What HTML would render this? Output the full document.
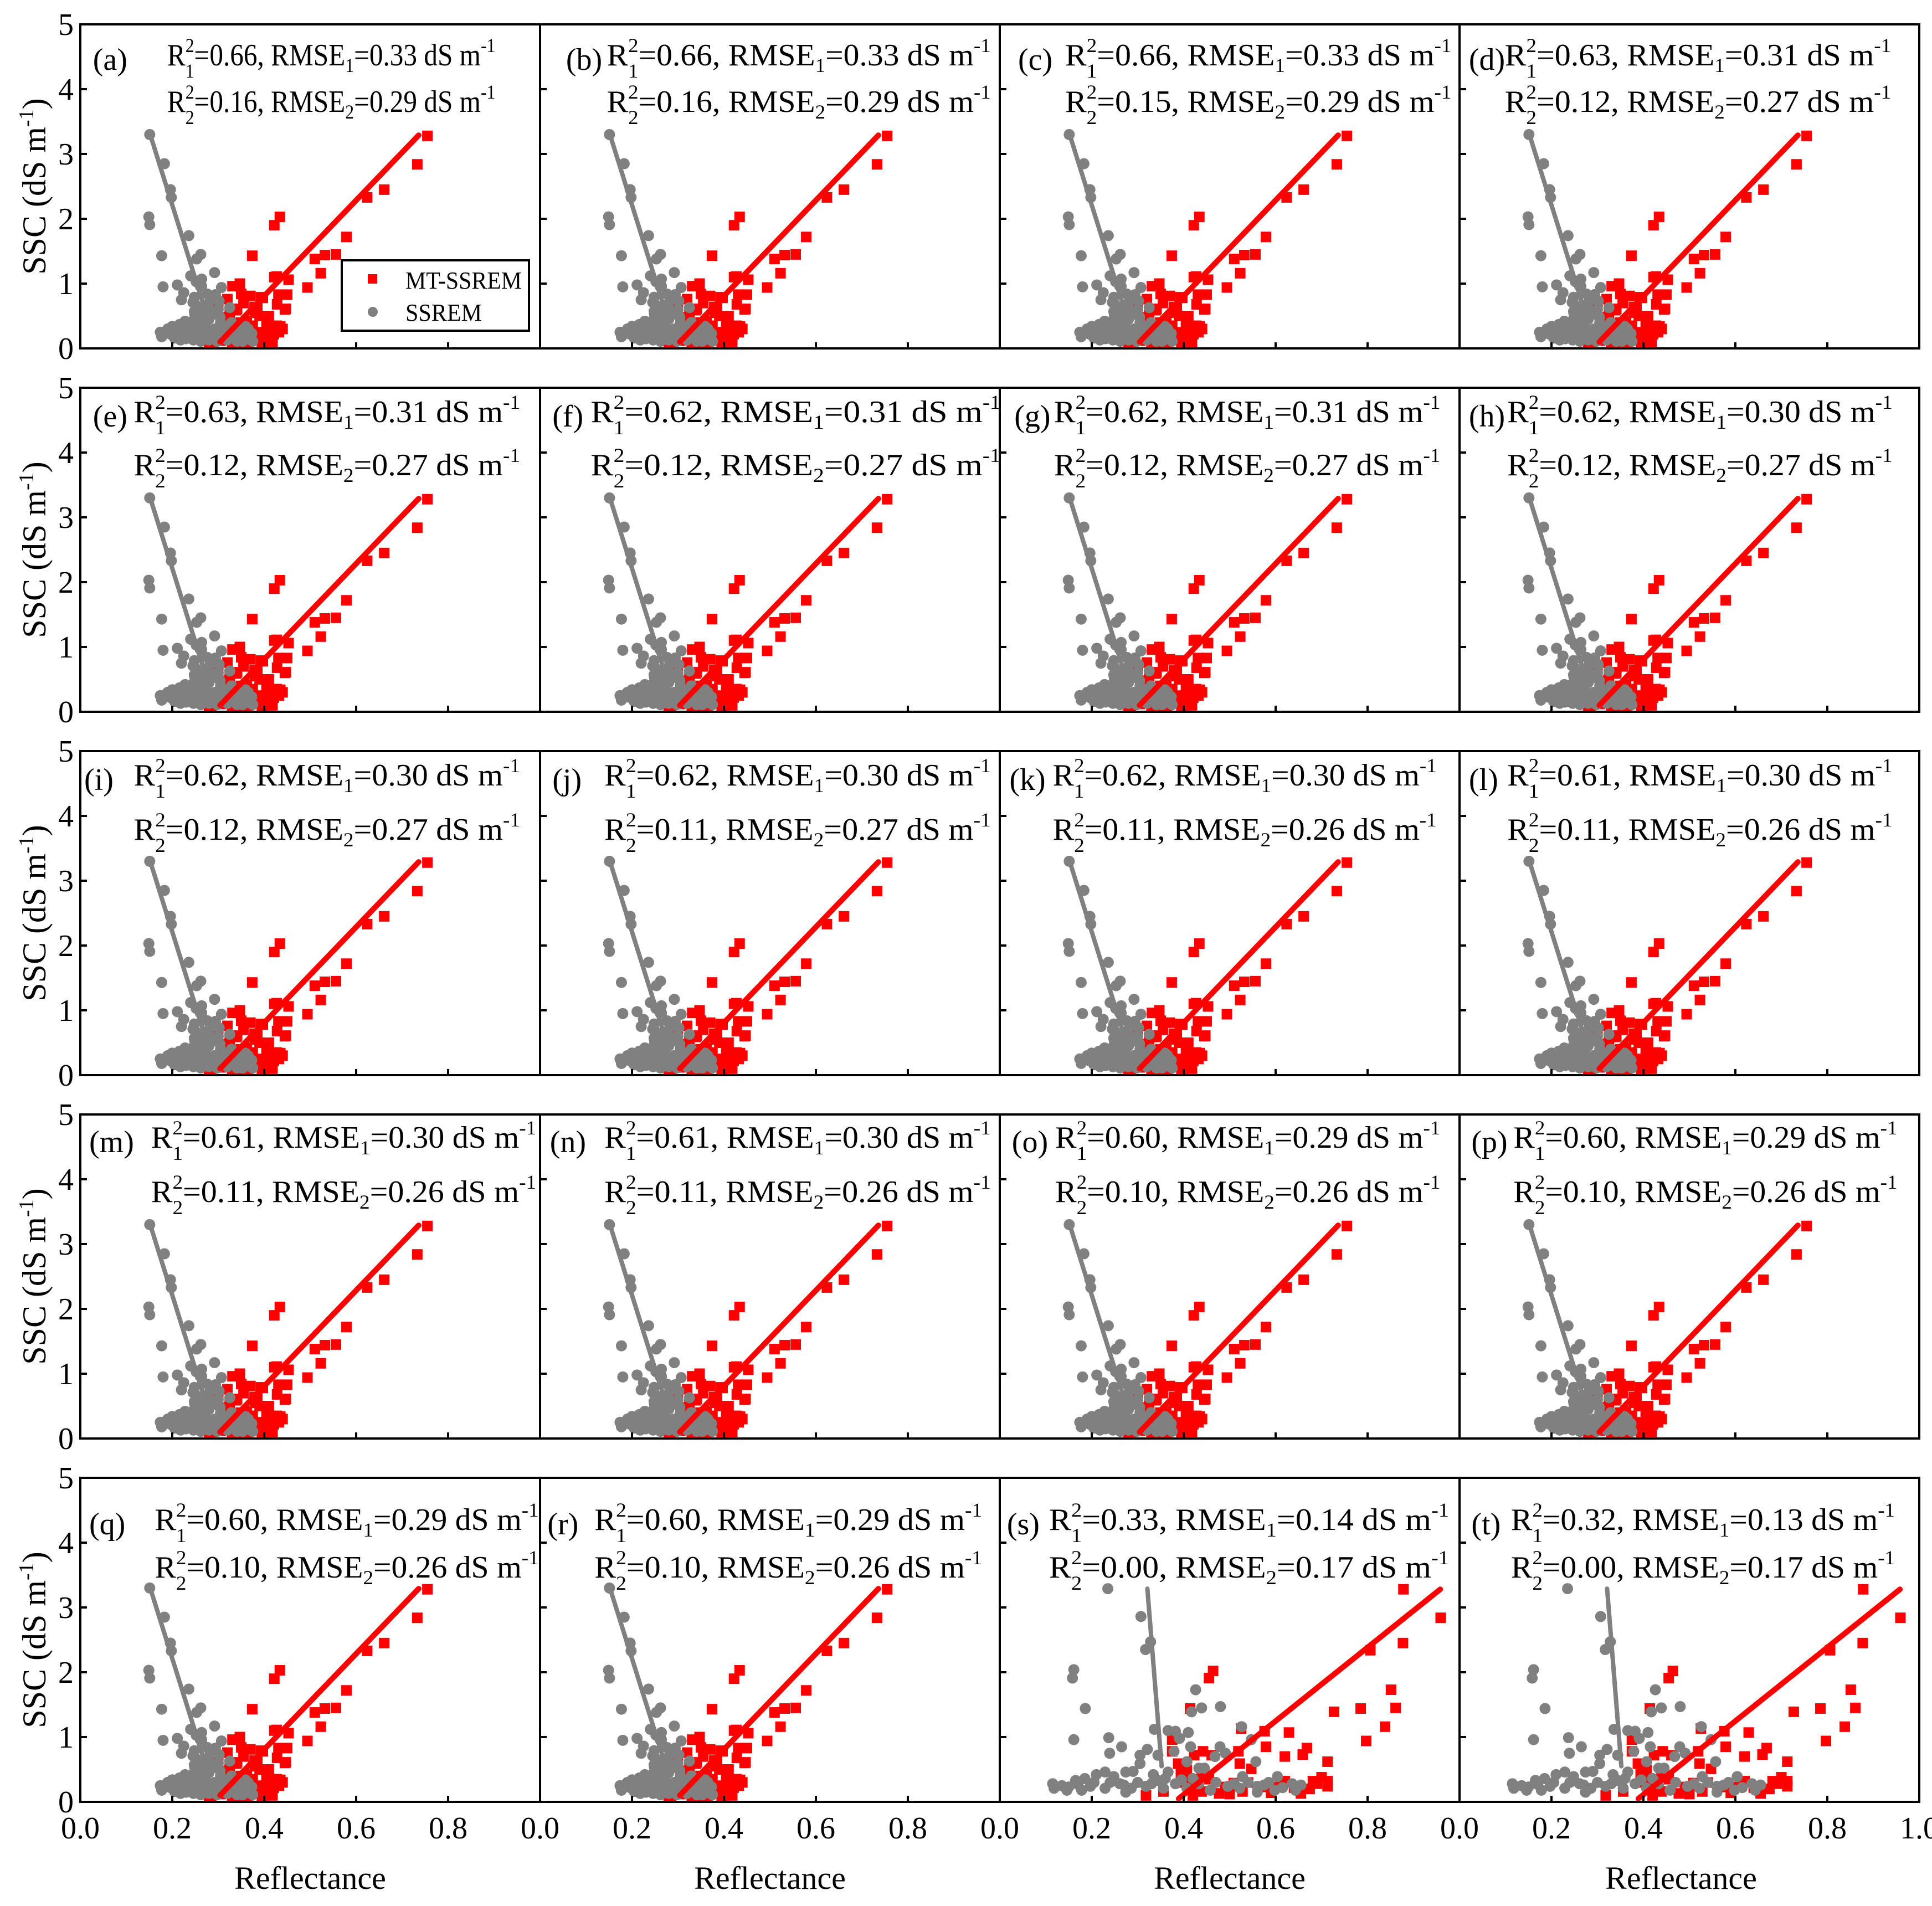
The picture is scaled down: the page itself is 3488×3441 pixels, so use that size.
<!DOCTYPE html>
<html><head><meta charset="utf-8">
<style>
html,body{margin:0;padding:0;background:#fff;}
svg{display:block;font-family:"Liberation Serif",serif;}
</style></head>
<body>
<svg id="chart" width="3488" height="3441" viewBox="0 0 3488 3441" xmlns="http://www.w3.org/2000/svg"></svg>
<script>
// ---------- data (panels a–r) ----------
const redX = [0.755,0.733,0.661,0.624,0.579,0.556,0.532,0.510,0.523,0.494,0.434,0.422,0.374,0.422,0.453,0.450,0.445,0.428,0.435,0.420,0.401,0.393,0.370,0.347,0.331,0.350,0.320,0.300,0.339,0.316,0.379,0.390,0.362,0.336,0.362,0.324,0.285,0.408,0.412,0.379,0.356,0.427,0.431,0.447,0.397,0.385,0.341,0.405,0.427,0.421,0.361,0.280,0.349,0.316,0.300,0.310,0.330,0.345,0.370,0.395,0.415,0.440,0.380,0.355,0.325,0.395,0.410,0.375,0.345,0.290,0.305,0.335,0.365,0.390,0.418,0.432];
const redY = [3.28,2.84,2.45,2.33,1.72,1.45,1.44,1.38,1.16,0.94,2.03,1.90,1.43,1.10,1.06,0.83,0.60,0.68,0.34,0.22,0.10,0.79,0.81,1.00,0.96,0.84,0.76,0.68,0.59,0.48,0.64,0.50,0.42,0.34,0.22,0.14,0.09,0.45,0.27,0.14,0.07,1.11,0.83,0.61,0.78,0.62,0.61,0.36,0.35,0.22,0.08,0.08,0.40,0.40,0.30,0.20,0.05,0.25,0.30,0.25,0.15,0.30,0.55,0.70,0.55,0.05,0.50,0.35,0.15,0.20,0.12,0.06,0.10,0.20,0.10,0.25];
const grayX = [0.151,0.183,0.196,0.198,0.149,0.151,0.236,0.177,0.262,0.253,0.292,0.240,0.264,0.211,0.180,0.261,0.307,0.225,0.220,0.245,0.284,0.301,0.325,0.272,0.249,0.301,0.276,0.174,0.177,0.252,0.264,0.276,0.294,0.248,0.302,0.282,0.250,0.248,0.280,0.304,0.266,0.296,0.244,0.228,0.216,0.200,0.196,0.212,0.230,0.246,0.262,0.280,0.298,0.320,0.341,0.361,0.373,0.359,0.345,0.329,0.272,0.256,0.240,0.224,0.208,0.288,0.305,0.316,0.336,0.353,0.375,0.280,0.260,0.305,0.190,0.235,0.318,0.332,0.350,0.205,0.218,0.232,0.245,0.258,0.270,0.285,0.295,0.310,0.325,0.340,0.355,0.368,0.215,0.238,0.252,0.268,0.292,0.312,0.330,0.348,0.365,0.262,0.286,0.300];
const grayY = [3.30,2.85,2.45,2.33,2.03,1.91,1.74,1.43,1.45,1.38,1.17,1.12,1.07,0.98,0.95,0.96,0.94,0.86,0.75,0.71,0.75,0.73,0.63,0.62,0.53,0.51,0.44,0.25,0.18,1.03,0.96,0.84,0.83,0.79,0.73,0.73,0.68,0.57,0.62,0.48,0.51,0.53,0.42,0.42,0.37,0.34,0.22,0.19,0.15,0.13,0.11,0.13,0.11,0.13,0.11,0.17,0.23,0.34,0.28,0.40,0.34,0.28,0.25,0.28,0.25,0.22,0.28,0.22,0.19,0.11,0.11,0.45,0.40,0.40,0.30,0.30,0.30,0.22,0.25,0.16,0.13,0.20,0.18,0.22,0.18,0.20,0.16,0.18,0.20,0.16,0.14,0.14,0.26,0.33,0.36,0.26,0.30,0.33,0.30,0.20,0.30,0.62,0.58,0.60];
const redLineX = [0.304,0.736];
const redLineY = [0.10,3.29];
const grayLineX = [0.152,0.280];
const grayLineY = [3.30,0.40];
// ---------- data (panels s, t) ----------
const redX2 = [0.878,0.959,0.877,0.806,0.464,0.455,0.851,0.727,0.785,0.861,0.838,0.797,0.414,0.525,0.576,0.579,0.629,0.620,0.668,0.659,0.713,0.375,0.375,0.442,0.461,0.423,0.519,0.522,0.547,0.388,0.407,0.394,0.410,0.439,0.713,0.700,0.681,0.674,0.620,0.604,0.573,0.528,0.490,0.477,0.439,0.356,0.318,0.420,0.655,0.713,0.509,0.395,0.430,0.455,0.500,0.540,0.590,0.640,0.690];
const redY2 = [3.28,2.84,2.45,2.34,2.02,1.91,1.73,1.39,1.44,1.45,1.16,0.94,1.44,1.13,1.09,0.85,1.07,0.70,0.83,0.73,0.62,0.96,0.78,0.78,0.72,0.72,0.78,0.59,0.51,0.59,0.49,0.43,0.34,0.41,0.32,0.38,0.32,0.20,0.32,0.23,0.23,0.16,0.23,0.13,0.16,0.16,0.10,0.10,0.13,0.24,0.29,0.30,0.22,0.35,0.12,0.30,0.14,0.22,0.28];
const grayX2 = [0.235,0.307,0.328,0.317,0.161,0.158,0.426,0.186,0.439,0.480,0.417,0.526,0.161,0.237,0.239,0.265,0.336,0.366,0.382,0.410,0.391,0.415,0.479,0.491,0.468,0.557,0.547,0.321,0.305,0.305,0.344,0.379,0.407,0.433,0.445,0.528,0.366,0.334,0.290,0.274,0.115,0.118,0.150,0.165,0.185,0.210,0.229,0.248,0.197,0.229,0.261,0.286,0.318,0.344,0.356,0.382,0.407,0.433,0.458,0.496,0.522,0.560,0.585,0.604,0.598,0.636,0.643,0.560,0.274,0.178,0.146,0.135,0.170,0.205,0.240,0.270,0.300,0.330,0.360,0.395,0.420,0.470,0.510,0.540,0.575,0.615,0.655];
const grayY2 = [3.29,2.86,2.47,2.35,2.04,1.91,1.73,1.44,1.45,1.47,1.39,1.16,0.96,0.99,0.75,0.85,1.12,1.10,1.09,1.07,0.98,0.85,0.85,0.75,0.70,0.62,0.96,0.81,0.72,0.59,0.72,0.78,0.62,0.52,0.52,0.39,0.46,0.42,0.47,0.46,0.28,0.21,0.23,0.33,0.36,0.42,0.46,0.39,0.24,0.21,0.28,0.21,0.24,0.33,0.21,0.28,0.21,0.28,0.18,0.24,0.21,0.24,0.30,0.39,0.18,0.28,0.18,0.15,0.15,0.18,0.18,0.25,0.27,0.30,0.30,0.26,0.30,0.28,0.36,0.34,0.36,0.30,0.28,0.30,0.26,0.22,0.26];
const redLineX2 = [0.389,0.958];
const redLineY2 = [0.05,3.28];
const grayLineX2 = [0.321,0.352];
const grayLineY2 = [3.29,0.55];
// ---------- ticks ----------
const xTicks = [0,0.2,0.4,0.6,0.8,1.0];
const xTickLabels = ["0.0","0.2","0.4","0.6","0.8","1.0"];
const yTicks = [0,1,2,3,4,5];
const yTickLabels = ["0","1","2","3","4","5"];
const stats = [
 ["a","0.66","0.33","0.16","0.29"],["b","0.66","0.33","0.16","0.29"],["c","0.66","0.33","0.15","0.29"],["d","0.63","0.31","0.12","0.27"],
 ["e","0.63","0.31","0.12","0.27"],["f","0.62","0.31","0.12","0.27"],["g","0.62","0.31","0.12","0.27"],["h","0.62","0.30","0.12","0.27"],
 ["i","0.62","0.30","0.12","0.27"],["j","0.62","0.30","0.11","0.27"],["k","0.62","0.30","0.11","0.26"],["l","0.61","0.30","0.11","0.26"],
 ["m","0.61","0.30","0.11","0.26"],["n","0.61","0.30","0.11","0.26"],["o","0.60","0.29","0.10","0.26"],["p","0.60","0.29","0.10","0.26"],
 ["q","0.60","0.29","0.10","0.26"],["r","0.60","0.29","0.10","0.26"],["s","0.33","0.14","0.00","0.17"],["t","0.32","0.13","0.00","0.17"]
];
const annoPos = [
 [75,135,135,400],[457,490,490,800],[822,860,860,1172],[1186,1215,1215,1527],
 [75,108,108,420],[446,477,477,808],[819,851,851,1163],[1186,1217,1217,1528],
 [68,108,108,420],[446,488,488,800],[815,850,850,1160],[1186,1217,1217,1528],
 [72,122,122,433],[444,488,488,800],[817,852,852,1163],[1188,1222,1222,1532],
 [72,125,125,435],[442,480,480,793],[813,847,847,1170],[1188,1220,1220,1530]
];
const rowOff = [[74,158],[62,158],[62,160],[60,158],[94,180]];

const NS="http://www.w3.org/2000/svg";
const svg=document.getElementById('chart');
function mk(tag,attrs,parent){const e=document.createElementNS(NS,tag);for(const k in attrs)e.setAttribute(k,attrs[k]);(parent||svg).appendChild(e);return e;}

const PL=145, PW=830, PT=44, PH=585, RP=656;
const S=2.236;

function statText(g,x,y,endX,idx,r,rmse){
  const t=mk('text',{x:x,y:y,'font-size':56,fill:'#000',textLength:(endX-x),lengthAdjust:'spacingAndGlyphs'},g);
  
  
  t.appendChild(document.createTextNode('R'));
  let s=mk('tspan',{dy:-24,'font-size':36},t); s.textContent='2';
  s=mk('tspan',{dx:-18,dy:46,'font-size':36},t); s.textContent=String(idx);
  s=mk('tspan',{dy:-22},t); s.textContent='='+r+', RMSE';
  s=mk('tspan',{dy:12,'font-size':36},t); s.textContent=String(idx);
  s=mk('tspan',{dy:-12},t); s.textContent='='+rmse+' dS m';
  s=mk('tspan',{dy:-24,'font-size':36},t); s.textContent='-1';
}

for(let p=0;p<20;p++){
  const row=Math.floor(p/4), col=p%4;
  const x0=PL+col*PW, y0=PT+row*RP;
  const g=mk('g',{});
  
  
  const sx=v=>x0+v*PW, sy=v=>y0+PH-v*PH/5;
  const alt=(p>=18);
  const rx=alt?redX2:redX, ry=alt?redY2:redY, gx=alt?grayX2:grayX, gy=alt?grayY2:grayY;
  const rlx=alt?redLineX2:redLineX, rly=alt?redLineY2:redLineY, glx=alt?grayLineX2:grayLineX, gly=alt?grayLineY2:grayLineY;
  const clip='clip'+p;
  const cp=mk('clipPath',{id:clip},g); mk('rect',{x:x0,y:y0,width:PW,height:PH},cp);
  const dg=mk('g',{'clip-path':'url(#'+clip+')'},g);
  for(let i=0;i<rx.length;i++){
    const r=mk('rect',{x:sx(rx[i])-9.5,y:sy(ry[i])-9.5,width:19,height:19,fill:'#ff0000'},dg);
    
    
  }
  for(let i=0;i<gx.length;i++){
    const c=mk('circle',{cx:sx(gx[i]),cy:sy(gy[i]),r:10,fill:'#808080'},dg);
    
    
  }
  const l1=mk('line',{x1:sx(rlx[0]),y1:sy(rly[0]),x2:sx(rlx[1]),y2:sy(rly[1]),stroke:'#ff0000','stroke-width':10,'stroke-linecap':'round'},dg);
  
  
  const l2=mk('line',{x1:sx(glx[0]),y1:sy(gly[0]),x2:sx(glx[1]),y2:sy(gly[1]),stroke:'#808080','stroke-width':8,'stroke-linecap':'round'},dg);
  
  
  const fr=mk('rect',{x:x0,y:y0,width:PW,height:PH,fill:'none',stroke:'#000','stroke-width':4},g);
  
  
  for(let i=1;i<xTicks.length-1;i++) mk('line',{x1:sx(xTicks[i]),x2:sx(xTicks[i]),y1:y0+PH,y2:y0+PH-11,stroke:'#000','stroke-width':4},g);
  for(let i=1;i<yTicks.length-1;i++){
    mk('line',{x1:x0,x2:x0+12,y1:sy(yTicks[i]),y2:sy(yTicks[i]),stroke:'#000','stroke-width':4},g);
  }
  if(col===0){
    for(let i=0;i<yTicks.length;i++){
      const t=mk('text',{x:x0-12,y:sy(yTicks[i])+19,'font-size':56,'text-anchor':'end'},g);
      
      
      t.textContent=yTickLabels[i];
    }
    const cy=y0+PH/2;
    const yl=mk('text',{x:0,y:0,'font-size':60,'text-anchor':'middle',transform:'translate(82,'+cy+') rotate(-90)'},g);
    
    
    yl.appendChild(document.createTextNode('SSC (dS m'));
    const ys=mk('tspan',{dy:-22,'font-size':38},yl); ys.textContent='-1';
    const ys2=mk('tspan',{dy:22},yl); ys2.textContent=')';
  }
  if(row===4){
    const n=(col===3)?6:5;
    for(let i=0;i<n;i++){
      const t=mk('text',{x:sx(xTicks[i]),y:y0+PH+66,'font-size':56,'text-anchor':'middle'},g);
      
      
      t.textContent=xTickLabels[i];
    }
    const xl=mk('text',{x:x0+PW/2-(col===3?15:0),y:3410,'font-size':58,'text-anchor':'middle'},g);
    
    
    xl.textContent='Reflectance';
  }
  const ap=annoPos[p], ro=rowOff[row];
  const lb=mk('text',{x:ap[0]*S,y:y0+ro[0]+8,'font-size':56},g);
  
  
  lb.textContent='('+stats[p][0]+')';
  statText(g,ap[1]*S,y0+ro[0],ap[3]*S,1,stats[p][1],stats[p][2]);
  statText(g,ap[2]*S,y0+ro[1],ap[3]*S,2,stats[p][3],stats[p][4]);
}
const lg=mk('g',{});


mk('rect',{x:617,y:470,width:338,height:127,fill:'#fff',stroke:'#000','stroke-width':4},lg);
const le1=mk('rect',{x:664,y:495,width:17,height:17,fill:'#ff0000'},lg);


const lt1=mk('text',{x:732,y:521,'font-size':44,textLength:210,lengthAdjust:'spacingAndGlyphs'},lg); lt1.textContent='MT-SSREM';
const le2=mk('circle',{cx:673,cy:563,r:9,fill:'#808080'},lg);


const lt2=mk('text',{x:732,y:579,'font-size':44,textLength:138,lengthAdjust:'spacingAndGlyphs'},lg); lt2.textContent='SSREM';
</script>
</body></html>
